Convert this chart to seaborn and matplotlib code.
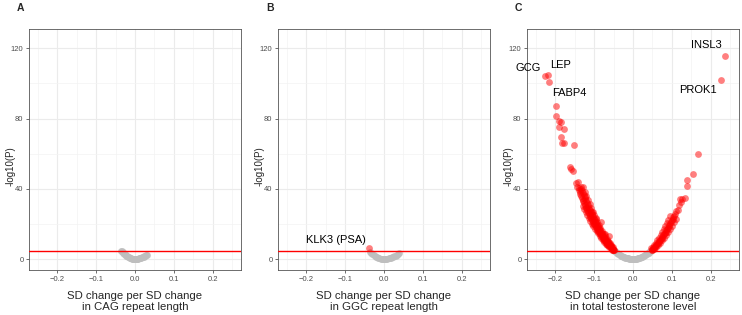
import pandas as pd
import matplotlib.pyplot as plt
import seaborn as sns
from matplotlib.ticker import MultipleLocator

# Panel A: CAG repeat length (all below threshold)
a_grey_x = [-0.036, -0.034, -0.032, -0.030, -0.028, -0.026, -0.024, -0.022, -0.020, -0.018,
            -0.016, -0.014, -0.012, -0.010, -0.008, -0.006, -0.004, -0.002, 0.000, 0.002,
            0.004, 0.006, 0.008, 0.010, 0.012, 0.014, 0.016, 0.018, 0.020, 0.022,
            0.024, 0.026, 0.028, 0.030]
a_grey_y = [4.6, 4.3, 3.9, 3.4, 3.0, 2.6, 2.2, 1.8, 1.5, 1.2,
            1.0, 0.7, 0.5, 0.4, 0.2, 0.1, 0.06, 0.02, 0.0, 0.02,
            0.05, 0.1, 0.18, 0.3, 0.4, 0.55, 0.7, 0.9, 1.05, 1.25,
            1.5, 1.8, 2.1, 2.4]

# Panel B: GGC repeat length
b_grey_x = [-0.036, -0.033, -0.030, -0.027, -0.024, -0.021, -0.018, -0.015, -0.012, -0.009,
            -0.006, -0.003, 0.000, 0.003, 0.006, 0.009, 0.012, 0.015, 0.018, 0.021,
            0.024, 0.027, 0.030, 0.033, 0.036, 0.039]
b_grey_y = [3.8, 3.2, 2.6, 2.1, 1.7, 1.3, 0.95, 0.65, 0.42, 0.24,
            0.1, 0.03, 0.0, 0.02, 0.08, 0.17, 0.3, 0.48, 0.68, 0.93,
            1.2, 1.5, 1.9, 2.3, 2.7, 3.2]
b_red_x = [-0.0387]
b_red_y = [6.1]

# Panel C: total testosterone level
c_grey_x = [-0.048, -0.046, -0.044, -0.042, -0.040, -0.038, -0.036, -0.034, -0.032, -0.030,
            -0.028, -0.026, -0.024, -0.022, -0.020, -0.018, -0.016, -0.014, -0.012, -0.010,
            -0.008, -0.006, -0.004, -0.002, 0.000, 0.002, 0.004, 0.006, 0.008, 0.010,
            0.012, 0.014, 0.016, 0.018, 0.020, 0.022, 0.024, 0.026, 0.028, 0.030,
            0.032, 0.034, 0.036, 0.038, 0.040, 0.042, 0.044, 0.046]
c_grey_y = [4.6, 4.4, 3.9, 3.7, 3.2, 3.0, 2.6, 2.4, 2.0, 1.9,
            1.6, 1.4, 1.2, 1.0, 0.8, 0.7, 0.5, 0.4, 0.3, 0.2,
            0.13, 0.08, 0.03, 0.01, 0.0, 0.01, 0.04, 0.09, 0.15, 0.24,
            0.33, 0.46, 0.6, 0.75, 0.9, 1.1, 1.3, 1.6, 1.8, 2.1,
            2.3, 2.7, 2.9, 3.4, 3.6, 4.1, 4.3, 4.6]

c_red_x = [
    # left band
    -0.140, -0.138, -0.136, -0.134, -0.132, -0.130, -0.128, -0.126, -0.124, -0.122,
    -0.120, -0.118, -0.116, -0.114, -0.112, -0.110, -0.108, -0.106, -0.104, -0.102,
    -0.100, -0.098, -0.096, -0.094, -0.092, -0.090, -0.088, -0.086, -0.084, -0.082,
    -0.080, -0.078, -0.076, -0.074, -0.072, -0.070, -0.068, -0.066, -0.064, -0.062,
    -0.060, -0.058, -0.056, -0.054, -0.052, -0.050, -0.049,
    -0.135, -0.133, -0.131, -0.129, -0.127, -0.125, -0.123, -0.121, -0.119, -0.117,
    -0.115, -0.113, -0.111, -0.109, -0.107, -0.105, -0.103, -0.101, -0.099, -0.097,
    -0.095, -0.093, -0.091, -0.089, -0.087, -0.085, -0.083, -0.081, -0.079, -0.077,
    -0.075, -0.073, -0.071, -0.069, -0.067, -0.065, -0.063, -0.061, -0.059, -0.057,
    -0.055, -0.053, -0.051,
    -0.130, -0.126, -0.122, -0.118, -0.114, -0.110, -0.106, -0.102, -0.098, -0.094,
    -0.090, -0.086, -0.082, -0.078, -0.074, -0.070, -0.066, -0.062, -0.058, -0.054,
    -0.051,
    -0.128, -0.124, -0.120, -0.116, -0.112, -0.108, -0.104, -0.100, -0.096, -0.092,
    -0.088, -0.084, -0.080, -0.076, -0.072, -0.068, -0.064, -0.060, -0.056, -0.052,
    # left outliers
    -0.226, -0.219, -0.2176, -0.1995, -0.1995, -0.191, -0.186, -0.191, -0.179, -0.187,
    -0.184, -0.179, -0.151, -0.1615, -0.160, -0.156, -0.148, -0.142, -0.145, -0.140,
    -0.0945, -0.0816, -0.062, -0.105, -0.072,
    # right band
    0.048, 0.050, 0.052, 0.054, 0.056, 0.058, 0.060, 0.062, 0.064, 0.066,
    0.068, 0.070, 0.072, 0.074, 0.076, 0.078, 0.080, 0.082, 0.084, 0.086,
    0.088, 0.090, 0.092, 0.094, 0.096, 0.098, 0.100, 0.102, 0.104, 0.106, 0.108,
    0.047, 0.051, 0.055, 0.059, 0.063, 0.067, 0.071, 0.075, 0.079, 0.083,
    0.087, 0.091, 0.095,
    0.050, 0.055, 0.060, 0.065, 0.070, 0.075, 0.080, 0.085, 0.090, 0.095,
    0.100, 0.105, 0.110,
    # right outliers
    0.112, 0.116, 0.118, 0.122, 0.124, 0.126, 0.133, 0.140, 0.140, 0.155,
    0.169, 0.226, 0.237,
]
c_red_y = [
    39.2, 38.1, 37.0, 35.9, 34.8, 33.8, 32.8, 31.8, 30.8, 29.8,
    28.8, 27.8, 26.9, 26.0, 25.1, 24.2, 23.3, 22.5, 21.6, 20.8,
    20.0, 19.2, 18.4, 17.7, 16.9, 16.2, 15.5, 14.8, 14.1, 13.4,
    12.8, 12.2, 11.6, 11.0, 10.4, 9.8, 9.2, 8.7, 8.2, 7.7,
    7.2, 6.7, 6.3, 5.8, 5.4, 5.0, 4.9,
    41.0, 39.8, 38.6, 37.4, 36.3, 35.2, 34.0, 32.9, 31.9, 30.8,
    29.8, 28.7, 27.7, 26.7, 25.8, 24.8, 23.9, 23.0, 22.1, 21.2,
    20.3, 19.5, 18.6, 17.8, 17.0, 16.3, 15.5, 14.8, 14.0, 13.3,
    12.7, 12.0, 11.3, 10.7, 10.1, 9.5, 8.9, 8.4, 7.8, 7.3,
    6.8, 6.3, 5.9,
    30.4, 28.6, 26.8, 25.1, 23.4, 21.8, 20.2, 18.7, 17.3, 15.9,
    14.6, 13.3, 12.1, 11.0, 9.9, 8.8, 7.8, 6.9, 6.1, 5.2,
    4.9,
    41.0, 38.4, 36.0, 33.6, 31.4, 29.2, 27.0, 25.0, 23.0, 21.2,
    19.4, 17.6, 16.0, 14.4, 13.0, 11.6, 10.2, 9.0, 7.8, 6.8,
    104.0, 104.7, 100.6, 87.1, 81.6, 78.8, 78.0, 75.0, 74.2, 69.3,
    65.9, 65.9, 65.0, 52.4, 51.4, 50.2, 43.4, 44.0, 41.1, 40.2,
    23.1, 21.2, 13.1, 27.0, 14.0,
    5.1, 5.5, 5.9, 6.4, 6.9, 7.4, 7.9, 8.5, 9.0, 9.6,
    10.2, 10.8, 11.4, 12.0, 12.7, 13.4, 14.1, 14.8, 15.5, 16.3,
    17.0, 17.8, 18.6, 19.4, 20.3, 21.1, 22.0, 22.9, 23.8, 24.7, 25.7,
    6.0, 7.0, 8.2, 9.4, 10.7, 12.1, 13.6, 15.2, 16.9, 18.6,
    20.4, 22.4, 24.4,
    5.0, 5.7, 6.8, 8.0, 9.3, 10.7, 12.2, 13.7, 15.4, 17.1,
    19.0, 20.9, 23.0,
    27.5, 28.2, 30.5, 33.9, 32.2, 34.0, 35.0, 41.7, 44.9, 48.3,
    60.0, 102.1, 115.7,
]

b_labels = ["KLK3 (PSA)"]
b_label_x = [-0.125]
b_label_y = [10.8]
c_labels = ["INSL3", "GCG", "LEP", "FABP4", "PROK1"]
c_label_x = [0.189, -0.271, -0.187, -0.165, 0.168]
c_label_y = [122, 109, 110.6, 94.7, 96.4]

panel_letters = ["A", "B", "C"]
x_titles = ["SD change per SD change\nin CAG repeat length",
            "SD change per SD change\nin GGC repeat length",
            "SD change per SD change\nin total testosterone level"]
x_ticks = [-0.2, -0.1, 0.0, 0.1, 0.2]
x_tick_labels = ["\u22120.2", "\u22120.1", "0.0", "0.1", "0.2"]
y_ticks = [0, 40, 80, 120]
threshold = 4.7

sns.set_theme(style="white")
plt.rcParams['font.family'] = ['Liberation Sans', 'DejaVu Sans']

fig = plt.figure(figsize=(7.42, 3.15), dpi=100)
lefts = [29 / 742, 278 / 742, 527 / 742]
axes = [fig.add_axes([l, 1 - 270 / 315, 212 / 742, 241 / 315]) for l in lefts]

panels = [
    (a_grey_x, a_grey_y, [], [], [], [], []),
    (b_grey_x, b_grey_y, b_red_x, b_red_y, b_labels, b_label_x, b_label_y),
    (c_grey_x, c_grey_y, c_red_x, c_red_y, c_labels, c_label_x, c_label_y),
]

for ax, (gx, gy, rx, ry, labs, lx, ly), letter, xt in zip(axes, panels, panel_letters, x_titles):
    grey_df = pd.DataFrame({"beta": gx, "logp": gy})
    sns.scatterplot(data=grey_df, x="beta", y="logp", ax=ax, color="#bebebe",
                    alpha=0.85, s=24, linewidth=0, zorder=3)
    if rx:
        red_df = pd.DataFrame({"beta": rx, "logp": ry})
        sns.scatterplot(data=red_df, x="beta", y="logp", ax=ax, color="#ff0000",
                        alpha=0.5, s=24, linewidth=0, zorder=4)
    ax.axhline(threshold, color="#ff0000", linewidth=1.0, zorder=5)
    for t, x, y in zip(labs, lx, ly):
        ax.text(x, y, t, ha="center", va="center", fontsize=8, color="black", zorder=6)

    ax.set_xlim(-0.2735, 0.2735)
    ax.set_ylim(-6.25, 131)
    ax.xaxis.set_minor_locator(MultipleLocator(0.05))
    ax.yaxis.set_minor_locator(MultipleLocator(20))
    ax.set_xticks(x_ticks)
    ax.set_xticklabels(x_tick_labels)
    ax.set_yticks(y_ticks)
    ax.set_yticklabels([str(v) for v in y_ticks])
    ax.grid(which="major", color="#ebebeb", linewidth=0.8, zorder=0)
    ax.grid(which="minor", color="#f3f3f3", linewidth=0.5, zorder=0)
    ax.set_axisbelow(True)
    ax.tick_params(which="major", length=2.5, width=0.5, color="#333333",
                   labelsize=5.5, labelcolor="#4d4d4d", pad=1.5,
                   bottom=True, left=True)
    ax.tick_params(which="minor", length=0)
    for sp in ax.spines.values():
        sp.set_color("#555555")
        sp.set_linewidth(0.6)
    ax.set_xlabel(xt, fontsize=8.2, labelpad=6, linespacing=1.2)
    ax.set_ylabel("-log10(P)", fontsize=7)
    ax.yaxis.set_label_coords(-0.062, 0.433)
    pos = ax.get_position()
    fig.text(pos.x0 - 12 / 742, 1 - 8 / 315, letter, fontsize=7.5,
             fontweight="bold", ha="left", va="center")

fig.savefig("out.png", dpi=100)
